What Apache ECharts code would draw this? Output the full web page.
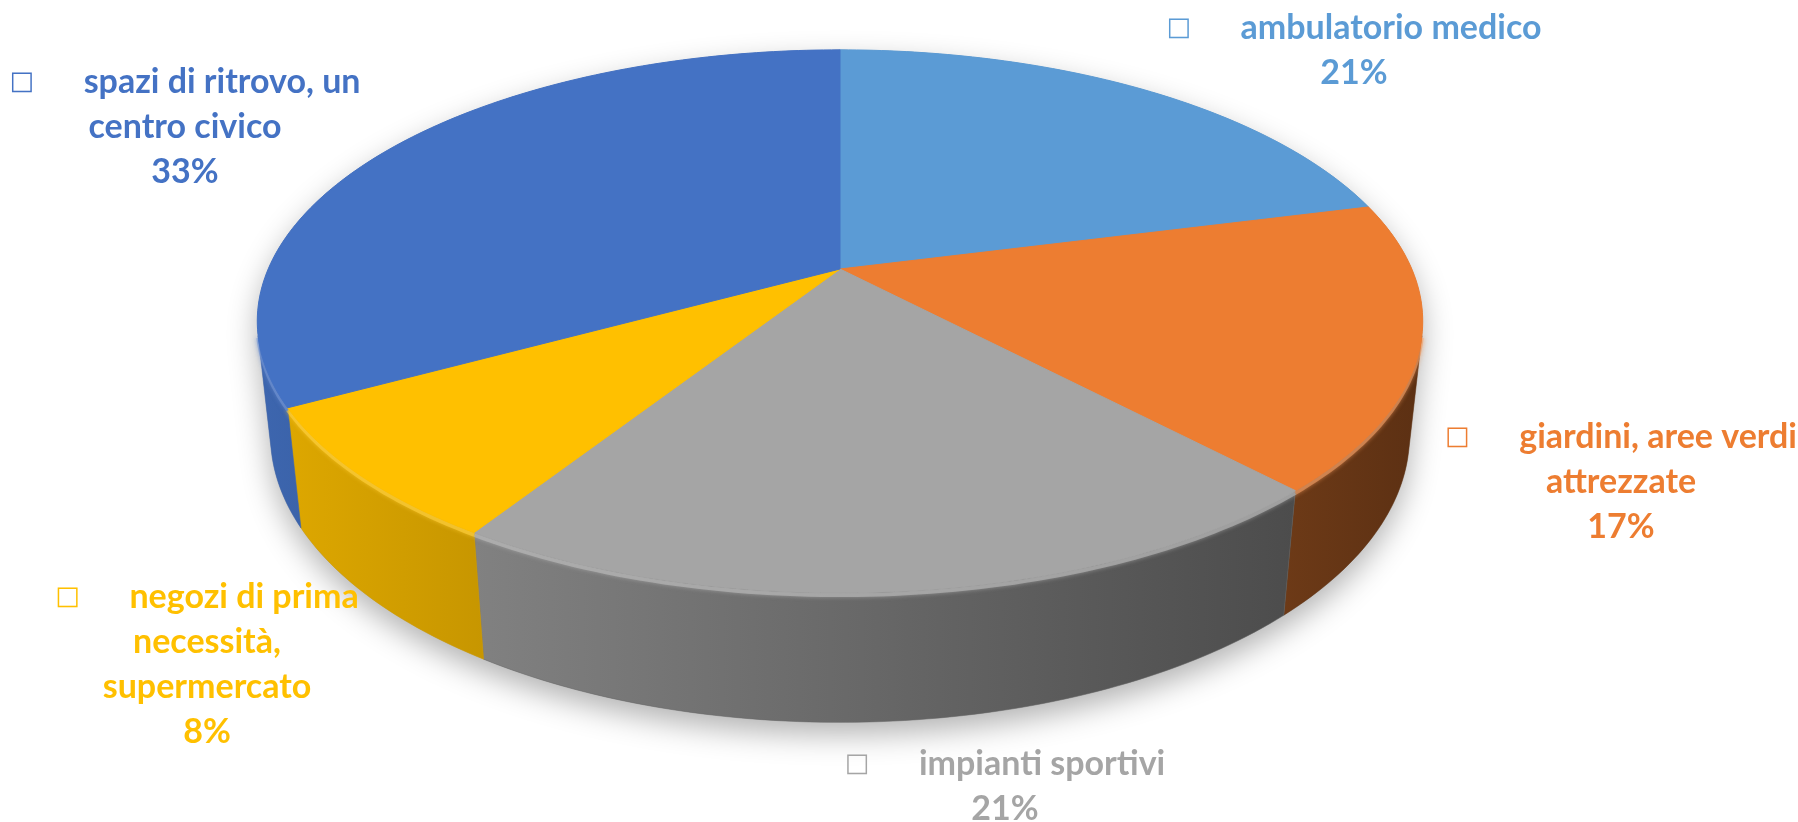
<!DOCTYPE html>
<html>
<head>
<meta charset="utf-8">
<script src="https://cdn.jsdelivr.net/npm/echarts@6/dist/echarts.min.js"></script>
<style>
  html, body { margin: 0; padding: 0; background: #fff; }
  #chart { width: 1798px; height: 822px; }
</style>
</head>
<body>
<div id="chart"></div>
<script>
// dati del grafico
const categories = [
  'ambulatorio medico',
  'giardini, aree verdi\nattrezzate',
  'impianti sportivi',
  'negozi di prima\nnecessità,\nsupermercato',
  'spazi di ritrovo, un\ncentro civico'
]
const values = [21, 17, 21, 8, 33]
const colors = ['#5B9BD5', '#ED7D31', '#A5A5A5', '#FFC000', '#4472C4']

// centro dei blocchi di etichetta
const labelCenters = [[1354, 51], [1621, 482], [1005, 787], [207, 665], [185, 127]]

// vista prospettica della torta
const view = { cx: 840, cy: 269, F: 2640, D: 4.617, tilt: 27.2 * Math.PI / 180, h: 0.2257 }
const sinA = Math.sin(view.tilt)
const cosA = Math.cos(view.tilt)
const total = values.reduce((a, b) => a + b, 0)

// t: angolo in gradi, in senso orario dall'alto
function project(t, z) {
  const r = t * Math.PI / 180
  const x = Math.sin(r), y = Math.cos(r)
  const depth = y * cosA - z * sinA + view.D
  const up = y * sinA + z * cosA
  return [view.cx + view.F * x / depth, view.cy - view.F * up / depth]
}

function arc(t0, t1, z) {
  const pts = []
  const n = Math.max(2, Math.ceil(Math.abs(t1 - t0)))
  for (let i = 0; i <= n; i++) pts.push(project(t0 + (t1 - t0) * i / n, z))
  return pts
}

// parte visibile del bordo laterale
const edge = Math.asin(1 / (view.D * cosA)) * 180 / Math.PI
const visFrom = 90 + edge
const visTo = 270 - edge

function shade(hex, k) {
  const n = parseInt(hex.slice(1), 16)
  const r = Math.round(((n >> 16) & 255) * k)
  const g = Math.round(((n >> 8) & 255) * k)
  const b = Math.round((n & 255) * k)
  return 'rgb(' + Math.min(255, r) + ',' + Math.min(255, g) + ',' + Math.min(255, b) + ')'
}

function lighten(hex, k) {
  const n = parseInt(hex.slice(1), 16)
  const c = [(n >> 16) & 255, (n >> 8) & 255, n & 255].map(v => Math.round(v + (255 - v) * k))
  return 'rgb(' + c.join(',') + ')'
}

function sideBrightness(t) {
  return 0.64 - 0.26 * Math.sin(t * Math.PI / 180)
}

function renderBase() {
  const pts = arc(visTo, 360 + visFrom, 0).concat(arc(visFrom, visTo, -view.h))
  return {
    type: 'polygon',
    z2: 0,
    shape: { points: pts },
    style: {
      fill: '#9a9a9a',
      shadowColor: 'rgba(0,0,0,0.3)',
      shadowBlur: 30,
      shadowOffsetY: 12
    }
  }
}

function renderSlice(params, api) {
  const i = api.value(0)
  const before = values.slice(0, i).reduce((a, b) => a + b, 0)
  const start = before / total * 360
  const end = (before + values[i]) / total * 360
  const color = colors[i]
  const children = []

  const a = Math.max(start, visFrom)
  const b = Math.min(end, visTo)
  if (b > a) {
    children.push({
      type: 'polygon',
      z2: 1,
      shape: { points: arc(a, b, 0).concat(arc(b, a, -view.h)) },
      style: {
        fill: new echarts.graphic.LinearGradient(0, 0, 1, 0, [
          { offset: 0, color: shade(color, sideBrightness(b)) },
          { offset: 1, color: shade(color, sideBrightness(a)) }
        ]),
        stroke: shade(color, sideBrightness((a + b) / 2)),
        lineWidth: 0.5
      }
    })
    // bordo smussato
    children.push({
      type: 'polyline',
      z2: 2,
      shape: { points: arc(a, b, -0.004) },
      style: {
        stroke: lighten(color, 0.25),
        lineWidth: 4,
        fill: null,
        opacity: 0.6,
        shadowColor: lighten(color, 0.2),
        shadowBlur: 4
      }
    })
  }

  children.push({
    type: 'polygon',
    z2: 3,
    shape: { points: [[view.cx, view.cy]].concat(arc(start, end, 0)) },
    style: { fill: color, stroke: color, lineWidth: 1 }
  })

  const lines = categories[i].split('\n')
  lines[0] = '{b|\u25A1}      ' + lines[0]
  lines.push(Math.round(values[i] / total * 100) + '%')
  children.push({
    type: 'text',
    z2: 4,
    style: {
      text: lines.join('\n'),
      x: labelCenters[i][0],
      y: labelCenters[i][1],
      fill: color,
      font: 'bold 34px Lato, "DejaVu Sans", sans-serif',
      align: 'center',
      verticalAlign: 'middle',
      lineHeight: 45,
      rich: {
        b: { font: '26px "DejaVu Sans"', fill: color, lineHeight: 45 }
      }
    }
  })

  return { type: 'group', children: children }
}

const chart = echarts.init(document.getElementById('chart'))
chart.setOption({
  animation: false,
  backgroundColor: '#ffffff',
  series: [
    {
      type: 'custom',
      coordinateSystem: 'none',
      silent: true,
      data: [0],
      renderItem: renderBase
    },
    {
      type: 'custom',
      coordinateSystem: 'none',
      data: values.map((v, i) => [i, v]),
      renderItem: renderSlice
    }
  ]
})
</script>
</body>
</html>
